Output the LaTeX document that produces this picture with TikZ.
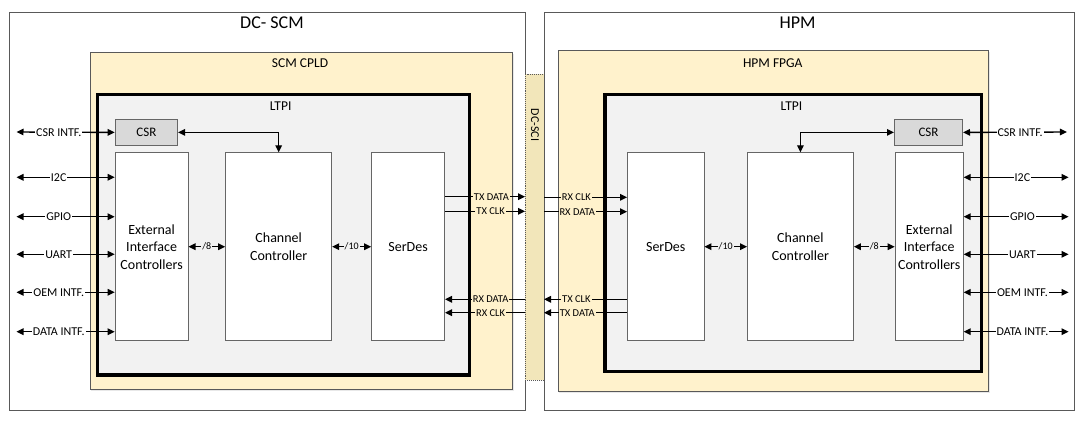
\documentclass[tikz,border=0pt]{standalone}
\usepackage{fontspec}
\setmainfont{Carlito}
\usetikzlibrary{arrows.meta,shadows}
\definecolor{cpldfill}{HTML}{FFF2CC}
\definecolor{ltpifill}{HTML}{F2F2F2}
\definecolor{csrfill}{HTML}{D9D9D9}
\definecolor{scifill}{HTML}{F2E6BA}
\definecolor{edge}{HTML}{595959}
\tikzset{
  box/.style={draw=edge, line width=0.9pt, anchor=north west, inner sep=0pt, fill=white},
  chip/.style={box, fill=cpldfill, drop shadow={shadow xshift=1.5pt, shadow yshift=-1.5pt, opacity=0.18}},
  ltpi/.style={box, draw=black, line width=3.2pt, fill=ltpifill},
  block/.style={box, draw=gray!80!black, line width=0.8pt, align=center, font=\fontsize{14}{17.5}\selectfont},
  csrbox/.style={block, fill=csrfill, font=\fontsize{13}{15}\selectfont},
  title/.style={font=\fontsize{18}{20}\selectfont},
  sub/.style={font=\fontsize{13.5}{16}\selectfont},
  sig/.style={line width=1.4pt, ->},
  dsig/.style={line width=1.4pt, <->},
  ext/.style={fill=white, inner sep=1pt, font=\fontsize{12}{14}\selectfont},
  lnk/.style={fill=cpldfill, inner sep=1pt, font=\fontsize{10.5}{12}\selectfont},
  bus/.style={fill=ltpifill, inner sep=1pt, font=\fontsize{10}{11}\selectfont},
}
\begin{document}
\begin{tikzpicture}[x=1pt,y=-1pt,>={Triangle[length=7pt,width=6.5pt]}]
\useasboundingbox (0,0) rectangle (1080,422);

\node[box, minimum width=515.7pt, minimum height=397.7pt] (dcscm) at (9.3,12.3) {};
\node[box, minimum width=529.7pt, minimum height=397.7pt] (hpm) at (544,12.3) {};
\node[box, fill=scifill, draw=edge, densely dotted, minimum width=19pt, minimum height=306pt] (band) at (525,74) {};
\node[rotate=-90, font=\fontsize{12}{14}\selectfont] (sci) at (535,125) {DC-SCI};

\node[title] (dcscmT) at (272,23) {DC- SCM};
\node[title] (hpmT) at (797.6,23) {HPM};

\node[chip, minimum width=422.2pt, minimum height=337.3pt] (cpld) at (89.5,51.7) {};
\node[chip, minimum width=430.8pt, minimum height=340.5pt] (fpga) at (557.5,50.5) {};
\node[sub] (cpldT) at (300,63.3) {SCM CPLD};
\node[sub] (fpgaT) at (772.8,63.3) {HPM FPGA};

\node[ltpi, minimum width=371.6pt, minimum height=280pt] (ltpiL) at (96,93.3) {};
\node[ltpi, minimum width=376.7pt, minimum height=276.7pt] (ltpiR) at (603.3,93.3) {};
\node[sub] (ltpiLT) at (280.6,106) {LTPI};
\node[sub] (ltpiRT) at (791.4,106) {LTPI};

\node[csrbox, minimum width=62.6pt, minimum height=26pt] (csrL) at (114.7,119) {CSR};
\node[block, minimum width=73pt, minimum height=188pt] (eicL) at (114.7,152.3) {External\\Interface\\Controllers};
\node[block, minimum width=106.1pt, minimum height=188pt] (ccL) at (225.2,152.3) {Channel\\Controller};
\node[block, minimum width=73pt, minimum height=188pt] (sdL) at (371.2,152.3) {SerDes};

\node[csrbox, minimum width=68.2pt, minimum height=26pt] (csrR) at (894,119) {CSR};
\node[block, minimum width=76.5pt, minimum height=188pt] (sdR) at (627.1,152.3) {SerDes};
\node[block, minimum width=106pt, minimum height=188pt] (ccR) at (747,152.3) {Channel\\Controller};
\node[block, minimum width=68.2pt, minimum height=188pt] (eicR) at (894.7,152.3) {External\\Interface\\Controllers};

\draw[dsig] (csrL.east) -| (ccL.north);
\draw[dsig] (csrR.west) -| (ccR.north);
\draw[dsig] (eicL) -- (ccL) node[bus,midway] {/8};
\draw[dsig] (ccL) -- (sdL) node[bus,midway] {/10};
\draw[dsig] (sdR) -- (ccR) node[bus,midway] {/10};
\draw[dsig] (ccR) -- (eicR) node[bus,midway] {/8};

\coordinate (csrLx) at (16.5,132);
\coordinate (csrRx) at (1066.9,132);
\draw[dsig] (csrLx) -- (csrL.west) node[ext,pos=0.43] {CSR INTF.};
\draw[dsig] (csrR.east) -- (csrRx) node[ext,pos=0.55] {CSR INTF.};
\foreach \y/\t [count=\i] in {177.3/I2C, 216.7/GPIO, 254.3/UART, 292.3/OEM INTF., 331.7/DATA INTF.} {
  \coordinate (la\i) at (16.5,\y);
  \coordinate (ra\i) at (1068.6,\y);
  \draw[dsig] (la\i) -- (la\i -| eicL.west) node[ext,pos=0.43] {\t};
  \draw[dsig] (ra\i -| eicR.east) -- (ra\i) node[ext,pos=0.56] {\t};
}

\coordinate (txdL) at (525,196.7);
\coordinate (txcL) at (525,211.3);
\coordinate (rxdL) at (525,299.3);
\coordinate (rxcL) at (525,312.7);
\draw[sig] (txdL -| sdL.east) -- (txdL) node[lnk,pos=0.58] {TX DATA};
\draw[sig] (txcL -| sdL.east) -- (txcL) node[lnk,pos=0.57] {TX CLK};
\draw[sig] (rxdL) -- (rxdL -| sdL.east) node[lnk,pos=0.43] {RX DATA};
\draw[sig] (rxcL) -- (rxcL -| sdL.east) node[lnk,pos=0.43] {RX CLK};

\coordinate (rxcR) at (544,197.3);
\coordinate (rxdR) at (544,211.7);
\coordinate (txcR) at (544,299.3);
\coordinate (txdR) at (544,312.7);
\draw[sig] (rxcR) -- (rxcR -| sdR.west) node[lnk,pos=0.39] {RX CLK};
\draw[sig] (rxdR) -- (rxdR -| sdR.west) node[lnk,pos=0.40] {RX DATA};
\draw[sig] (txcR -| sdR.west) -- (txcR) node[lnk,pos=0.61] {TX CLK};
\draw[sig] (txdR -| sdR.west) -- (txdR) node[lnk,pos=0.60] {TX DATA};
\end{tikzpicture}
\end{document}
